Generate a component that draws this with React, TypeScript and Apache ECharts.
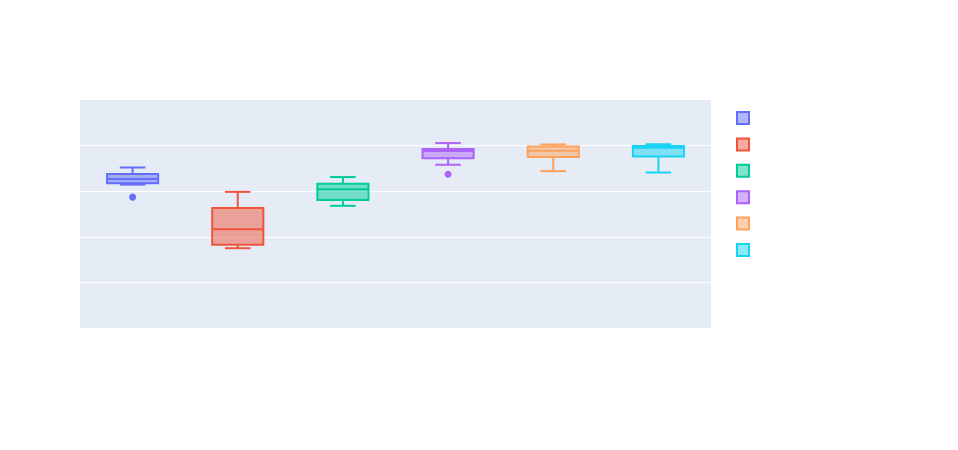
import React, { useEffect, useRef } from "react";
import * as echarts from "echarts";

const categories = ["trace 0", "trace 1", "trace 2", "trace 3", "trace 4", "trace 5"];
const colors = ["#636efa", "#EF553B", "#00cc96", "#ab63fa", "#FFA15A", "#19d3f3"];
const fills = [
  "rgba(99,110,250,0.5)",
  "rgba(239,85,59,0.5)",
  "rgba(0,204,150,0.5)",
  "rgba(171,99,250,0.5)",
  "rgba(255,161,90,0.5)",
  "rgba(25,211,243,0.5)",
];
const lowerWhisker = [0.629, 0.35, 0.536, 0.716, 0.688, 0.682];
const q1 = [0.635, 0.365, 0.561, 0.745, 0.75, 0.752];
const median = [0.653, 0.433, 0.609, 0.776, 0.777, 0.791];
const q3 = [0.675, 0.526, 0.633, 0.785, 0.796, 0.798];
const upperWhisker = [0.704, 0.597, 0.662, 0.811, 0.805, 0.806];
const outliers: [number, number][] = [
  [0, 0.574],
  [3, 0.674],
];
const yTicks = { min: 0, max: 1, interval: 0.2 };

export default function App() {
  const ref = useRef<HTMLDivElement>(null);
  useEffect(() => {
    document.body.style.margin = "0";
    const chart = echarts.init(ref.current!, null, { renderer: "svg" });
    const boxData = categories.map((_, i) => [i, lowerWhisker[i], q1[i], median[i], q3[i], upperWhisker[i]]);
    const legendItems = colors.map((c, i) => ({
      type: "rect",
      shape: { x: 737, y: 112 + i * 26.4, width: 12, height: 12 },
      style: { fill: fills[i], stroke: c, lineWidth: 2 },
    }));
    chart.setOption({
      animation: false,
      grid: {
        left: 80,
        top: 100,
        width: 631,
        height: 228,
        show: true,
        backgroundColor: "#E5ECF6",
        borderWidth: 0,
      },
      xAxis: {
        type: "category",
        data: categories,
        axisLabel: { show: false },
        axisLine: { show: false },
        axisTick: { show: false },
        splitLine: { show: false },
      },
      yAxis: {
        type: "value",
        min: yTicks.min,
        max: yTicks.max,
        interval: yTicks.interval,
        axisLabel: { show: false },
        axisLine: { show: false },
        axisTick: { show: false },
        splitLine: {
          show: true,
          showMinLine: false,
          showMaxLine: false,
          lineStyle: { color: "#ffffff", width: 1 },
        },
      },
      graphic: legendItems,
      series: [
        {
          type: "custom",
          data: boxData,
          renderItem: (params: any, api: any) => {
            const idx = api.value(0);
            const band = api.size([1, 0])[0];
            const hw = band * 0.243;
            const cw = hw / 2;
            const pLow = api.coord([idx, api.value(1)]);
            const pQ1 = api.coord([idx, api.value(2)]);
            const pMed = api.coord([idx, api.value(3)]);
            const pQ3 = api.coord([idx, api.value(4)]);
            const pHigh = api.coord([idx, api.value(5)]);
            const x = pQ1[0];
            const c = colors[params.dataIndex];
            const f = fills[params.dataIndex];
            const ls = { stroke: c, lineWidth: 2, fill: "none" };
            return {
              type: "group",
              children: [
                { type: "line", shape: { x1: x, y1: pQ3[1], x2: x, y2: pHigh[1] }, style: ls },
                { type: "line", shape: { x1: x, y1: pQ1[1], x2: x, y2: pLow[1] }, style: ls },
                { type: "line", shape: { x1: x - cw, y1: pHigh[1], x2: x + cw, y2: pHigh[1] }, style: ls },
                { type: "line", shape: { x1: x - cw, y1: pLow[1], x2: x + cw, y2: pLow[1] }, style: ls },
                {
                  type: "rect",
                  shape: { x: x - hw, y: pQ3[1], width: hw * 2, height: pQ1[1] - pQ3[1] },
                  style: { fill: f, stroke: c, lineWidth: 2 },
                },
                { type: "line", shape: { x1: x - hw, y1: pMed[1], x2: x + hw, y2: pMed[1] }, style: ls },
              ],
            };
          },
        },
        {
          type: "scatter",
          data: outliers.map((o) => ({ value: o, itemStyle: { color: colors[o[0]], opacity: 1 } })),
          symbol: "circle",
          symbolSize: 7,
        },
      ],
    });
    return () => chart.dispose();
  }, []);
  return <div ref={ref} style={{ width: 958, height: 450 }} />;
}
